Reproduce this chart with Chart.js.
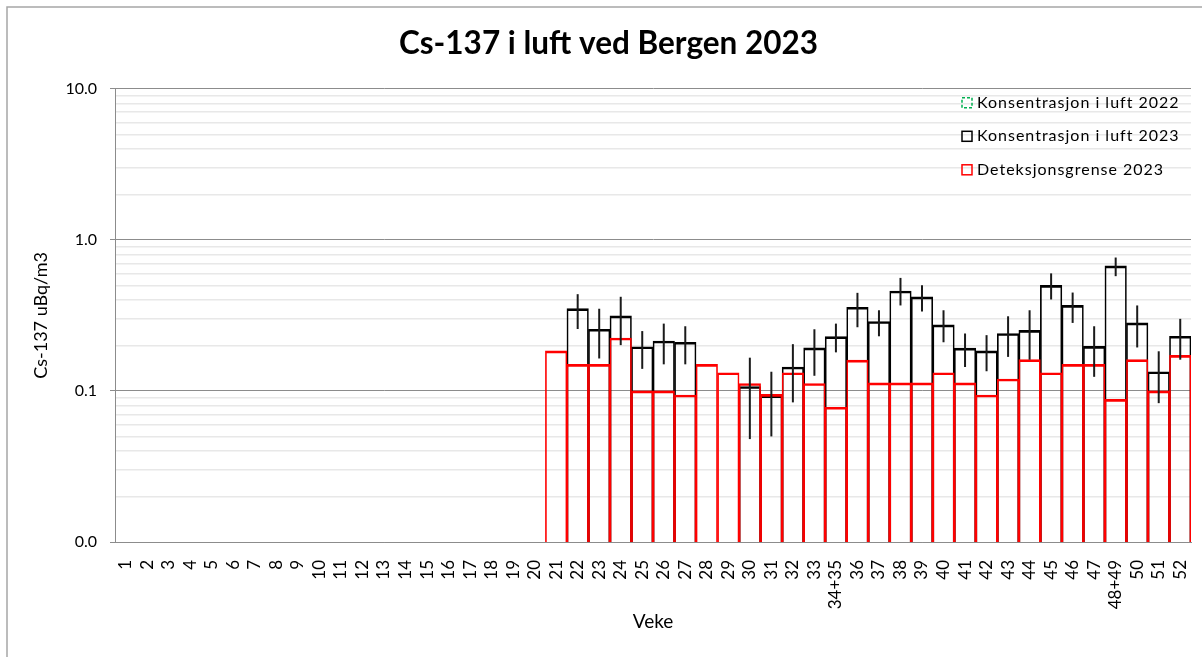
<!DOCTYPE html>
<html>
<head>
<meta charset="utf-8">
<script src="https://cdn.jsdelivr.net/npm/chart.js@4"></script>
<style>
  body { margin: 0; background: #fff; }
</style>
</head>
<body>
<canvas id="grafico" width="1202" height="657"></canvas>
<script>
// Veker (34+35 og 48+49 er slått saman)
const veker = ['1','2','3','4','5','6','7','8','9','10','11','12','13','14','15','16','17','18','19','20',
  '21','22','23','24','25','26','27','28','29','30','31','32','33','34+35','36','37','38','39','40',
  '41','42','43','44','45','46','47','48+49','50','51','52'];

const tomme = Array(20).fill(null);

// Konsentrasjon 2022 (ingen data i perioden)
const konsentrasjon2022 = Array(50).fill(null);

// Konsentrasjon i luft 2023, uBq/m3
const konsentrasjon2023 = tomme.concat([
  null, 0.351, 0.256, 0.314, 0.196, 0.214, 0.210, null, null, 0.107,
  0.093, 0.144, 0.193, 0.229, 0.358, 0.288, 0.459, 0.419, 0.274, 0.192,
  0.184, 0.240, 0.252, 0.500, 0.368, 0.197, 0.673, 0.282, 0.134, 0.230
]);

// Usikkerheit, nedre og øvre grense
const usikkerLav = tomme.concat([
  null, 0.257, 0.164, 0.201, 0.140, 0.150, 0.150, null, null, 0.048,
  0.050, 0.084, 0.126, 0.180, 0.264, 0.230, 0.368, 0.336, 0.210, 0.144,
  0.135, 0.168, 0.161, 0.403, 0.282, 0.124, 0.575, 0.194, 0.083, 0.161
]);
const usikkerHoy = tomme.concat([
  null, 0.437, 0.350, 0.420, 0.249, 0.279, 0.268, null, null, 0.166,
  0.134, 0.204, 0.256, 0.279, 0.446, 0.342, 0.560, 0.500, 0.342, 0.240,
  0.234, 0.312, 0.342, 0.600, 0.448, 0.268, 0.764, 0.368, 0.183, 0.300
]);

// Deteksjonsgrense 2023
const deteksjonsgrense = tomme.concat([
  0.184, 0.150, 0.150, 0.224, 0.100, 0.100, 0.094, 0.150, 0.132, 0.112,
  0.095, 0.132, 0.112, 0.078, 0.160, 0.113, 0.113, 0.113, 0.132, 0.113,
  0.094, 0.120, 0.161, 0.132, 0.150, 0.150, 0.088, 0.161, 0.100, 0.172
]);

// y-aksen: hovudmerke og hjelpelinjer
const yMerke = [0.01,0.02,0.03,0.04,0.05,0.06,0.07,0.08,0.09,
  0.1,0.2,0.3,0.4,0.5,0.6,0.7,0.8,0.9,
  1,2,3,4,5,6,7,8,9,10];
const yHovud = [0.01, 0.1, 1, 10];

const FONT = 'Lato, "Noto Sans", sans-serif';
const erHovud = v => yHovud.some(h => Math.abs(h - v) < 1e-9);

// Ramme rundt heile figuren
const ramme = {
  id: 'ramme',
  beforeDraw(chart) {
    const ctx = chart.ctx;
    ctx.save();
    ctx.fillStyle = '#fff';
    ctx.fillRect(0, 0, chart.width, chart.height);
    ctx.strokeStyle = '#a6a6a6';
    ctx.lineWidth = 1.5;
    ctx.strokeRect(7, 7, chart.width + 10, chart.height + 10);
    ctx.restore();
  }
};

// Feilstolpar for konsentrasjonen
const feilstolpar = {
  id: 'feilstolpar',
  afterDatasetsDraw(chart) {
    const {ctx, scales: {x, y}} = chart;
    ctx.save();
    ctx.strokeStyle = '#1a1a1a';
    ctx.lineWidth = 2;
    usikkerLav.forEach((lav, i) => {
      if (lav == null) return;
      const px = x.getPixelForValue(i);
      ctx.beginPath();
      ctx.moveTo(px, y.getPixelForValue(usikkerHoy[i]));
      ctx.lineTo(px, y.getPixelForValue(lav));
      ctx.stroke();
    });
    ctx.restore();
  }
};

// Forklaring inne i plottet, oppe til høgre
const forklaring = {
  id: 'forklaring',
  afterDraw(chart) {
    const ctx = chart.ctx;
    const x0 = chart.chartArea.right - 229;
    const y0 = chart.chartArea.top + 14;
    ctx.save();
    ctx.font = '16px ' + FONT;
    ctx.letterSpacing = '1px';
    ctx.textBaseline = 'middle';
    chart.data.datasets.forEach((ds, i) => {
      const yy = y0 + i * 33.5;
      ctx.strokeStyle = ds.borderColor;
      ctx.lineWidth = 1.5;
      ctx.setLineDash(ds.legendDash || []);
      ctx.strokeRect(x0, yy - 5, 10, 10);
      ctx.setLineDash([]);
      ctx.fillStyle = '#000';
      ctx.fillText(ds.label, x0 + 15, yy);
    });
    ctx.restore();
  }
};

new Chart(document.getElementById('grafico'), {
  type: 'bar',
  data: {
    labels: veker,
    datasets: [
      {
        label: 'Konsentrasjon i luft 2022',
        data: konsentrasjon2022,
        borderColor: '#00b050',
        legendDash: [3, 2],
        backgroundColor: 'rgba(0,0,0,0)',
        borderWidth: 2,
        order: 3
      },
      {
        label: 'Konsentrasjon i luft 2023',
        data: konsentrasjon2023,
        borderColor: '#000',
        backgroundColor: 'rgba(0,0,0,0)',
        borderWidth: {top: 2, left: 1, right: 1, bottom: 0},
        order: 2
      },
      {
        label: 'Deteksjonsgrense 2023',
        data: deteksjonsgrense,
        borderColor: '#ff0000',
        backgroundColor: 'rgba(0,0,0,0)',
        borderWidth: {top: 2, left: 1, right: 1, bottom: 0},
        order: 1
      }
    ]
  },
  options: {
    responsive: false,
    animation: false,
    grouped: false,
    categoryPercentage: 1,
    barPercentage: 1,
    layout: { padding: { left: 26, right: 11, top: 0, bottom: 0 } },
    scales: {
      x: {
        grid: { display: false },
        border: { color: '#8c8c8c' },
        ticks: {
          autoSkip: false, minRotation: 90, maxRotation: 90,
          padding: 10, color: '#000',
          font: { family: FONT, size: 17 }
        },
        title: {
          display: true, text: 'Veke', color: '#000',
          font: { family: FONT, size: 19 },
          padding: { top: 0, bottom: 24 }
        },
        afterFit(s) {
          s.height = 115;
          s.paddingLeft = 0;
          s.paddingRight = 0;
        }
      },
      y: {
        type: 'logarithmic',
        min: 0.01,
        max: 10,
        afterBuildTicks(s) {
          s.ticks = yMerke.map(v => ({ value: v, major: erHovud(v) }));
        },
        border: { color: '#8c8c8c' },
        grid: {
          color: c => erHovud(c.tick.value) ? '#8c8c8c' : '#e8e8e8',
          lineWidth: c => erHovud(c.tick.value) ? 1 : 1.5,
          tickColor: c => erHovud(c.tick.value) ? '#8c8c8c' : 'rgba(0,0,0,0)',
          tickLength: 5
        },
        ticks: {
          autoSkip: false,
          padding: 13,
          color: '#000',
          font: { family: FONT, size: 16 },
          callback: v => erHovud(v) ? v.toFixed(1) : ''
        },
        title: {
          display: true, text: 'Cs-137 uBq/m3', color: '#000',
          font: { family: FONT, size: 18 }
        },
        afterFit(s) { s.width = 89; }
      }
    },
    plugins: {
      legend: { display: false },
      tooltip: { enabled: false },
      title: {
        display: true,
        text: 'Cs-137 i luft ved Bergen 2023',
        color: '#000',
        font: { family: FONT, size: 31.5, weight: 'bold' },
        padding: { top: 25, bottom: 26 }
      }
    }
  },
  plugins: [ramme, feilstolpar, forklaring]
});
</script>
</body>
</html>
